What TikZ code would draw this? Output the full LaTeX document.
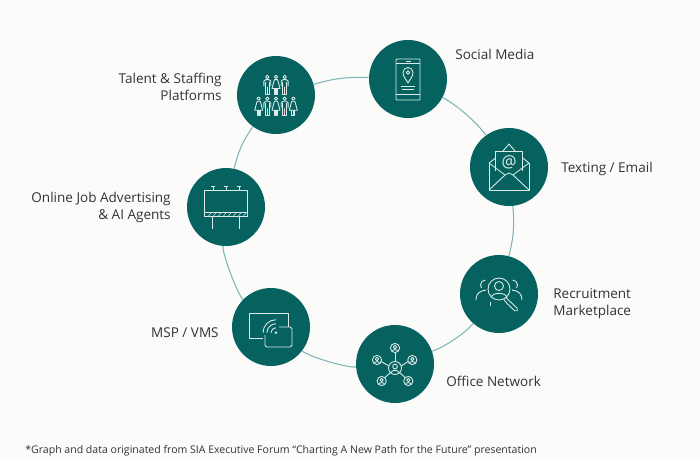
\documentclass[tikz,border=0pt]{standalone}
\usepackage{fontspec}
\setmainfont{Open Sans}
\usepackage{xcolor}
\usetikzlibrary{positioning,calc}

\definecolor{bgpage}{HTML}{FBFBFA}
\definecolor{tealdisc}{HTML}{06625F}
\definecolor{tealring}{HTML}{7FB5B6}
\definecolor{iconline}{HTML}{DCEBE9}
\definecolor{labeltext}{HTML}{333333}

\tikzset{
  disc/.style={circle, fill=tealdisc, minimum size=1.56cm, inner sep=0pt},
  ringarc/.style={draw=tealring, line width=0.6pt},
  icon/.style={draw=iconline, line width=0.5pt, line join=round},
  lbl/.style={text=labeltext, font=\fontsize{7.7}{9.6}\selectfont, inner sep=0pt},
}

% one standing figure, (x,y) is the top of the head
\newcommand{\manfig}[2]{
  \begin{scope}[shift={(#1,#2)}]
    \draw[icon] (0,-1.9) circle (1.7);
    \draw[icon] (-3.4,-11) -- (-3.4,-6) -- (-1.5,-4.6) -- (1.5,-4.6) -- (3.4,-6) -- (3.4,-11);
    \draw[icon] (-1.8,-6.5) -- (-1.8,-19) -- (0,-19) -- (0,-12) -- (0,-19) -- (1.8,-19) -- (1.8,-6.5);
  \end{scope}
}
\newcommand{\womanfig}[2]{
  \begin{scope}[shift={(#1,#2)}]
    \draw[icon] (0,-1.9) circle (1.7);
    \draw[icon] (-1.6,-4.6) -- (1.6,-4.6) -- (4,-13.5) -- (-4,-13.5) -- cycle;
    \draw[icon] (-1.6,-13.5) -- (-1.6,-19) -- (-0.3,-19) -- (-0.3,-13.5);
    \draw[icon] (0.3,-13.5) -- (0.3,-19) -- (1.6,-19) -- (1.6,-13.5);
  \end{scope}
}
% head and shoulders in a small ring
\newcommand{\netfig}[3]{
  \begin{scope}[shift={(#1,#2)}, scale=#3]
    \draw[icon] (0,0) circle (1);
    \draw[icon] (0,0.22) circle (0.36);
    \draw[icon] (-0.62,-0.78) .. controls (-0.6,-0.2) and (0.6,-0.2) .. (0.62,-0.78);
  \end{scope}
}

\begin{document}
\begin{tikzpicture}[x=0.02cm, y=0.02cm]
  \useasboundingbox[fill=bgpage] (0,0) rectangle (700,461);

  % Discs
  \node[disc] (talent) at (276,366) {};
  \node[disc] (social) at (408,382) {};
  \node[disc] (email) at (509,294) {};
  \node[disc] (recruit) at (499,167) {};
  \node[disc] (office) at (395,97) {};
  \node[disc] (msp) at (271,134) {};
  \node[disc] (online) at (226,254) {};

  % Ring pieces
  \draw[ringarc] (talent) to[bend left=9] (social);
  \draw[ringarc] (social) to[bend left=13, looseness=0.72] (email);
  \draw[ringarc] (email) to[bend left=10] (recruit);
  \draw[ringarc] (recruit) to[bend left=15, looseness=0.68] (office);
  \draw[ringarc] (office) to[bend left=21, looseness=0.45] (msp);
  \draw[ringarc] (msp) to[bend left=25, looseness=0.35] (online);
  \draw[ringarc] (online) to[bend left=12, looseness=0.9] (talent);

  % Labels
  \node[lbl, anchor=west] (lblsocial) at (455,407) {Social Media};
  \node[lbl, anchor=east, align=right] (lbltalent) at (222,374.5) {Talent \& Staffing\\Platforms};
  \node[lbl, anchor=west] (lblemail) at (561,292.5) {Texting / Email};
  \node[lbl, anchor=east, align=right] (lblonline) at (171,253.5) {Online Job Advertising\\\& AI Agents};
  \node[lbl, anchor=west, align=left] (lblrecruit) at (553,157) {Recruitment\\Marketplace};
  \node[lbl, anchor=east] (lblmsp) at (219,128) {MSP / VMS};
  \node[lbl, anchor=west] (lbloffice) at (446,80) {Office Network};
  \node[lbl, anchor=west, font=\fontsize{6}{7}\selectfont] (lblnote) at (25,10) {*Graph and data originated from SIA Executive Forum “Charting A New Path for the Future” presentation};

  % Staff figures
  \begin{scope}[shift={(talent)}]
    \manfig{-8.7}{20} \womanfig{0}{20} \manfig{8.7}{20}
    \womanfig{-17.3}{-1.7} \manfig{-8.7}{-1.7} \womanfig{0}{-1.7} \manfig{8.7}{-1.7} \womanfig{17.3}{-1.7}
  \end{scope}

  % Phone
  \begin{scope}[shift={(social)}]
    \draw[icon, rounded corners=0.5pt] (-12,-21) rectangle (12,20);
    \draw[icon] (-12,16) -- (12,16);
    \draw[icon] (-12,-15) -- (12,-15);
    \draw[icon, line width=1pt] (-2.5,17.6) -- (2.5,17.6);
    \draw[icon] (0,-4) .. controls (-2,0) and (-5,2) .. (-5,6.5) arc (180:0:5) .. controls (5,2) and (2,0) .. cycle;
    \draw[icon] (0,6.5) circle (1.8);
    \draw[icon] (-7,-7) -- (7,-7);
    \draw[icon] (-6,-10) -- (6,-10);
  \end{scope}

  % Envelope
  \begin{scope}[shift={(email)}]
    \draw[icon] (-20,4) -- (-20,-23) -- (20,-23) -- (20,4);
    \draw[icon] (-20,4) -- (-13.3,9) (20,4) -- (13.7,9);
    \draw[icon] (-13.3,-3.5) -- (-13.3,16) -- (13.7,16) -- (13.7,-3.5);
    \draw[icon] (-6,16) -- (0,23) -- (6,16);
    \draw[icon] (-20,4) -- (-4,-8);
    \draw[icon] (20,4) -- (4,-8);
    \draw[icon] (-20,-23) -- (-4,-8) -- (0,-6) -- (4,-8) -- (20,-23);
    \node[text=iconline, inner sep=0pt, font=\fontsize{9.5}{10}\selectfont] (atsign) at (0,5) {@};
  \end{scope}

  % Billboard
  \begin{scope}[shift={(online)}]
    \draw[icon] (-21.7,-5.7) rectangle (21.5,17);
    \draw[icon] (-21.7,-9.7) -- (21.5,-9.7);
    \draw[icon] (-21.7,-5.7) -- (-21.7,-9.7) (21.5,-5.7) -- (21.5,-9.7);
    \foreach \hx in {-18,-13,-8,-3,2,7,12,17}
      \draw[icon, line width=0.3pt] (\hx,-9.7) -- (\hx+3,-5.7);
    \draw[icon] (-13.3,-9.7) -- (-13.3,-22);
    \draw[icon] (13.3,-9.7) -- (13.3,-22);
    \foreach \lx in {-13,0,13}
      \draw[icon] (\lx,17) -- (\lx,21) (\lx-2,21) -- (\lx+2,21);
  \end{scope}

  % Search over people
  \begin{scope}[shift={(recruit)}]
    \draw[icon] (0,5) circle (11);
    \draw[icon] (0,8) circle (4.5);
    \draw[icon] (-8,-3.5) .. controls (-7,2) and (7,2) .. (8,-3.5);
    \draw[icon, rounded corners=1pt] (7,-3.5) -- (9.5,-6) -- (19.5,-15.5) -- (17,-18) -- (7,-8.5) -- (5,-5.5);
    \draw[icon] (-13.5,14) arc (90:215:5);
    \draw[icon] (13.5,14) arc (90:-35:5);
    \draw[icon] (-23,-6) .. controls (-23,0) and (-20,3) .. (-13,4);
    \draw[icon] (23,-6) .. controls (23,0) and (20,3) .. (13,4);
    \draw[icon] (-9,-8) -- (-9,-12);
  \end{scope}

  % Screen and wireless
  \begin{scope}[shift={(msp)}]
    \draw[icon] (-8,-11) -- (-22,-11) -- (-22,14) -- (17,14) -- (17,0.5);
    \draw[icon, rounded corners=1pt] (-6,-8) -- (-6,-20) -- (21,-20) -- (21,0) -- (8,0);
    \fill[iconline] (5,-5.7) circle (1.4);
    \draw[icon] (0,-5.7) arc (180:90:5);
    \draw[icon] (-4,-5.7) arc (180:90:9);
    \draw[icon] (-8,-5.7) arc (180:90:13);
  \end{scope}

  % Network of people
  \begin{scope}[shift={(office)}]
    \netfig{0}{-4}{6.5}
    \netfig{0}{16}{4.6}
    \netfig{-18}{4}{4.6}
    \netfig{17.3}{4}{4.6}
    \netfig{-13.3}{-17}{4.6}
    \netfig{13.3}{-17}{4.6}
    \draw[icon] (0,2.5) -- (0,11.4);
    \draw[icon] (-6.2,-2) -- (-13.6,2.4);
    \draw[icon] (6.2,-2) -- (12.9,2.4);
    \draw[icon] (-4.6,-8.6) -- (-10.2,-13.6);
    \draw[icon] (4.6,-8.6) -- (10.2,-13.6);
  \end{scope}
\end{tikzpicture}
\end{document}
